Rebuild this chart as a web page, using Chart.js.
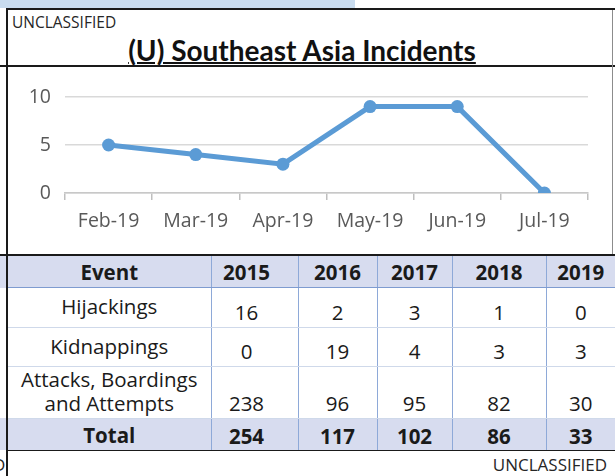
<!DOCTYPE html>
<html>
<head>
<meta charset="utf-8">
<script src="https://cdn.jsdelivr.net/npm/chart.js@4.4.0/dist/chart.umd.min.js"></script>
<style>
  html, body { margin: 0; padding: 0; background: #fff; }
  body { width: 615px; height: 476px; position: relative; overflow: hidden; font-family: "Open Sans", sans-serif; color: #1a1a1a; }
  .abs { position: absolute; }
  .blk { position: absolute; background: #1a1a1a; }
  #classTop { left: 12px; top: 15px; font-size: 15.5px; line-height: 15.5px; color: #262626; }
  #title { left: 0; width: 604px; top: 34px; text-align: center; font-family: Lato, sans-serif; font-weight: bold; font-size: 28px; line-height: 33px; text-decoration: underline; text-decoration-thickness: 2px; text-underline-offset: 1px; color: #111; }
  #chartBox { left: 8px; top: 68px; width: 604px; height: 186px; }
  #tbl { left: 8px; top: 256px; width: 607px; border-collapse: collapse; table-layout: fixed; font-size: 20.5px; color: #1a1a1a; }
  #tbl td, #tbl th { padding: 0; text-align: center; border-left: 1px solid #8ea9d8; }
  #tbl td:first-child, #tbl th:first-child { border-left: none; }
  #tbl thead th { background: #d7dcef; height: 31px; border-bottom: 1px solid #7e9bd0; font-weight: bold; }
  #tbl tbody td { border-bottom: 1px solid #cfd9ea; vertical-align: bottom; padding-bottom: 1px; }
  #tbl tbody td.lbl { vertical-align: middle; padding-bottom: 3px; white-space: pre-line; line-height: 24px; }
  #tbl tfoot td { background: #d7dcef; height: 31px; border-top: 1px solid #7e9bd0; font-weight: bold; vertical-align: bottom; padding-bottom: 0; }
  #classBot { right: 8px; top: 456px; font-size: 17px; line-height: 17px; color: #262626; }
</style>
</head>
<body>
<div class="abs" style="left:0;top:0;width:355px;height:8px;background:#c9dcef;"></div>
<div class="blk" style="left:6px;top:8px;width:609px;height:2px;"></div>
<div class="blk" style="left:6px;top:8px;width:2px;height:468px;"></div>
<div class="blk" style="left:0;top:65px;width:615px;height:2px;"></div>
<div class="abs" style="left:612px;top:10px;width:1px;height:244px;background:#8c8c8c;"></div>
<div class="blk" style="left:0;top:254px;width:615px;height:2px;"></div>
<div class="abs" style="left:0;top:256px;width:6px;height:32px;background:#d7dcef;"></div>
<div class="abs" style="left:0;top:418px;width:6px;height:32px;background:#d7dcef;"></div>
<div class="blk" style="left:6px;top:449px;width:609px;height:2px;"></div>

<div id="classTop" class="abs">UNCLASSIFIED</div>
<div id="title" class="abs">(U) Southeast Asia Incidents</div>
<div id="chartBox" class="abs"><canvas id="lineChart"></canvas></div>
<table id="tbl" class="abs">
  <colgroup>
    <col style="width:203px"><col style="width:87px"><col style="width:79px"><col style="width:75px"><col style="width:94px"><col style="width:69px">
  </colgroup>
  <thead><tr id="headRow"></tr></thead>
  <tbody id="bodyRows"></tbody>
  <tfoot><tr id="footRow"></tr></tfoot>
</table>
<div id="classBot" class="abs">UNCLASSIFIED</div>
<div class="abs" style="left:-7px;top:456px;font-size:17px;line-height:17px;color:#262626;">D</div>

<script>
// dados do gráfico de linha
const months = ['Feb-19', 'Mar-19', 'Apr-19', 'May-19', 'Jun-19', 'Jul-19'];
const incidents = [5, 4, 3, 9, 9, 0];
const yTickValues = [0, 5, 10];

// dados da tabela
const years = ['2015', '2016', '2017', '2018', '2019'];
const eventNames = ['Hijackings', 'Kidnappings', 'Attacks, Boardings\nand Attempts'];
const hijackings = [16, 2, 3, 1, 0];
const kidnappings = [0, 19, 4, 3, 3];
const attacks = [238, 96, 95, 82, 30];
const totals = [254, 117, 102, 86, 33];

document.addEventListener('DOMContentLoaded', function () {
    // monta a tabela
    const head = document.getElementById('headRow');
    head.innerHTML = '<th>Event</th>' + years.map(function (y, i) {
        return '<th' + (i === 0 ? ' style="padding-right:16px"' : '') + '>' + y + '</th>';
    }).join('');

    const rowHeights = [40, 39, 50];
    const body = document.getElementById('bodyRows');
    [hijackings, kidnappings, attacks].forEach(function (vals, r) {
        const tr = document.createElement('tr');
        tr.style.height = rowHeights[r] + 'px';
        let html = '<td class="lbl">' + eventNames[r] + '</td>';
        vals.forEach(function (v, i) {
            html += '<td' + (i === 0 ? ' style="padding-right:16px"' : '') + '>' + v + '</td>';
        });
        tr.innerHTML = html;
        body.appendChild(tr);
    });

    document.getElementById('footRow').innerHTML = '<td style="vertical-align:middle">Total</td>' +
        totals.map(function (v, i) {
            return '<td' + (i === 0 ? ' style="padding-right:16px"' : '') + '>' + v + '</td>';
        }).join('');

    try {
        const ctx = document.getElementById('lineChart').getContext('2d');
        new Chart(ctx, {
            type: 'line',
            data: {
                labels: months,
                datasets: [{
                    data: incidents,
                    borderColor: '#5b9bd5',
                    backgroundColor: '#5b9bd5',
                    borderWidth: 5,
                    pointRadius: 6.5,
                    pointBorderWidth: 0,
                    tension: 0
                }]
            },
            options: {
                animation: false,
                responsive: true,
                maintainAspectRatio: false,
                layout: {
                    padding: { top: 29, right: 24, bottom: 0, left: 0 }
                },
                plugins: {
                    legend: { display: false },
                    tooltip: { enabled: false }
                },
                scales: {
                    x: {
                        offset: true,
                        afterFit: function (scale) { scale.height = 61; },
                        grid: {
                            offset: true,
                            drawOnChartArea: false,
                            drawTicks: true,
                            tickLength: 7,
                            color: '#bfbfbf',
                            lineWidth: 1.5
                        },
                        border: { display: true, color: '#c8c8c8', width: 1.5 },
                        ticks: {
                            color: '#595959',
                            padding: 10,
                            maxRotation: 0,
                            font: { family: 'Open Sans', size: 19.5 }
                        }
                    },
                    y: {
                        min: 0,
                        max: 10,
                        afterFit: function (scale) { scale.width = 57; },
                        afterBuildTicks: function (scale) {
                            scale.ticks = yTickValues.map(function (v) { return { value: v }; });
                        },
                        grid: {
                            drawTicks: false,
                            color: '#d9d9d9',
                            lineWidth: 1.5
                        },
                        border: { display: false },
                        ticks: {
                            color: '#595959',
                            padding: 14,
                            font: { family: 'Open Sans', size: 19.5 }
                        }
                    }
                }
            }
        });
    } catch (error) {
        console.error('Erro ao montar gráfico:', error);
    }
});
</script>
</body>
</html>
